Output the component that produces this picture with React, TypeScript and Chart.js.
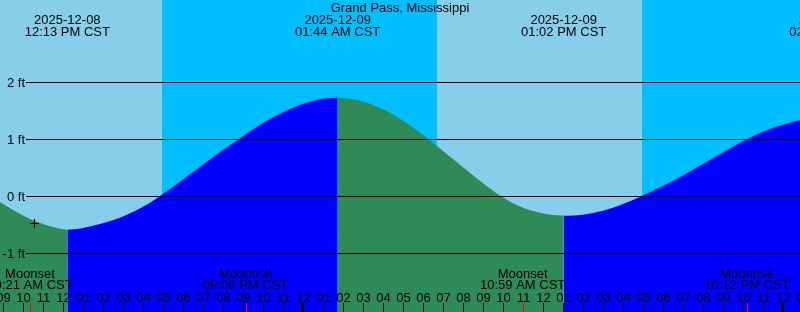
import React, { useEffect, useRef } from 'react';
import { Chart, registerables } from 'chart.js';

Chart.register(...registerables);

// ---- data (hours counted from 2025-12-08 00:00 CST) ----
const chartTitle = 'Grand Pass, Mississippi';

const tideHours = [
  8, 9, 10, 11, 12, 12.217, 13, 14, 15, 16, 17, 18, 19, 20, 21, 22, 23, 24, 25, 25.733,
  26, 27, 28, 29, 30, 31, 32, 33, 34, 35, 36, 37, 37.033,
  38, 39, 40, 41, 42, 43, 44, 45, 46, 47, 48, 49, 50, 50.45,
];
const tideFeet = [
  0.1, -0.14, -0.34, -0.49, -0.583, -0.59, -0.56, -0.48, -0.36, -0.19, 0.035, 0.29, 0.55, 0.805, 1.05, 1.28, 1.47, 1.615, 1.705, 1.725,
  1.72, 1.66, 1.52, 1.32, 1.07, 0.79, 0.505, 0.225, -0.025, -0.205, -0.305, -0.345, -0.346,
  -0.33, -0.26, -0.14, 0.01, 0.175, 0.36, 0.56, 0.765, 0.96, 1.125, 1.25, 1.34, 1.4, 1.41,
];

const tideEventHours = [12.217, 25.733, 37.033, 50.45];
const tideEventDates = ['2025-12-08', '2025-12-09', '2025-12-09', '2025-12-10'];
const tideEventTimes = ['12:13 PM CST', '01:44 AM CST', '01:02 PM CST', '02:27 AM CST'];

const moonEventHours = [10.35, 21.133, 34.983, 46.2];
const moonEventNames = ['Moonset', 'Moonrise', 'Moonset', 'Moonrise'];
const moonEventTimes = ['10:21 AM CST', '09:08 PM CST', '10:59 AM CST', '10:12 PM CST'];

const sunriseHours = [6.683, 30.685];
const sunsetHours = [16.935, 40.935];

const depthTicks = [2, 1, 0, -1];
const depthLabels = ['2 ft', '1 ft', '0 ft', '-1 ft'];

const hourTicks = [
  9, 10, 11, 12, 13, 14, 15, 16, 17, 18, 19, 20, 21, 22, 23, 24, 25, 26, 27, 28,
  29, 30, 31, 32, 33, 34, 35, 36, 37, 38, 39, 40, 41, 42, 43, 44, 45, 46, 47, 48, 49,
];
const hourLabels = [
  '09', '10', '11', '12', '01', '02', '03', '04', '05', '06', '07', '08', '09', '10', '11', '12', '01', '02', '03', '04',
  '05', '06', '07', '08', '09', '10', '11', '12', '01', '02', '03', '04', '05', '06', '07', '08', '09', '10', '11', '12', '01',
];
const midnightHours = [24, 48];

const nowHour = [10.575];
const nowFeet = [-0.482];

const xMin = 8.85;
const xMax = 48.85;
const yMin = -2.0351;
const yMax = 3.4386;

// ---- styles ----
const DAY = '#87CEEB';
const NIGHT = '#00BFFF';
const FLOOD = '#0000FF';
const EBB = '#2E8B57';
const FONT = '13px "Liberation Sans", Arial, Helvetica, sans-serif';

const decorPlugin = {
  id: 'tideDecor',
  beforeDatasetsDraw(chart: any) {
    const { ctx, chartArea, scales } = chart;
    const x = scales.x;
    ctx.save();
    ctx.fillStyle = NIGHT;
    ctx.fillRect(chartArea.left, chartArea.top, chartArea.right - chartArea.left, chartArea.bottom - chartArea.top);
    ctx.fillStyle = DAY;
    for (let i = 0; i < sunriseHours.length; i++) {
      const x0 = Math.max(chartArea.left, Math.round(x.getPixelForValue(sunriseHours[i])));
      const x1 = Math.min(chartArea.right, Math.round(x.getPixelForValue(sunsetHours[i])));
      if (x1 > x0) ctx.fillRect(x0, chartArea.top, x1 - x0, chartArea.bottom - chartArea.top);
    }
    ctx.restore();
  },
  afterDatasetsDraw(chart: any) {
    const { ctx, chartArea, scales } = chart;
    const x = scales.x;
    const y = scales.y;
    const W = chartArea.right;
    const H = chartArea.bottom;
    ctx.save();

    // depth grid lines + labels
    ctx.font = FONT;
    ctx.fillStyle = '#000';
    ctx.textBaseline = 'alphabetic';
    for (let i = 0; i < depthTicks.length; i++) {
      const py = Math.round(y.getPixelForValue(depthTicks[i]));
      ctx.fillRect(26, py, W - 26, 1);
      ctx.textAlign = 'right';
      ctx.fillText(depthLabels[i], 25, py + 5);
    }

    // title
    ctx.textAlign = 'center';
    ctx.fillText(chartTitle, 400, 12);

    // tide event labels
    for (let i = 0; i < tideEventHours.length; i++) {
      const px = x.getPixelForValue(tideEventHours[i]);
      ctx.fillText(tideEventDates[i], px, 24);
      ctx.fillText(tideEventTimes[i], px, 36);
    }

    // moon event labels
    for (let i = 0; i < moonEventHours.length; i++) {
      const px = x.getPixelForValue(moonEventHours[i]);
      ctx.fillText(moonEventNames[i], px, 278);
      ctx.fillText(moonEventTimes[i], px, 289);
    }

    // hour labels and ticks
    for (let i = 0; i < hourTicks.length; i++) {
      const px = Math.round(x.getPixelForValue(hourTicks[i]));
      ctx.fillStyle = '#000';
      ctx.fillText(hourLabels[i], px + 0.5, 302);
      if (midnightHours.includes(hourTicks[i])) {
        ctx.fillRect(px - 2, 303, 3, H - 303);
      } else {
        ctx.fillRect(px, 303, 1, H - 303);
      }
    }
    ctx.fillStyle = '#FF0000';
    for (let i = 0; i < moonEventHours.length; i++) {
      const px = Math.round(x.getPixelForValue(moonEventHours[i]));
      ctx.fillRect(px, 303, 1, H - 303);
    }
    ctx.restore();
  },
};

export default function App() {
  const canvasRef = useRef<HTMLCanvasElement | null>(null);

  useEffect(() => {
    const canvas = canvasRef.current;
    if (!canvas) return;
    const tideData = tideHours.map((h, i) => ({ x: h, y: tideFeet[i] }));
    const nowData = nowHour.map((h, i) => ({ x: h, y: nowFeet[i] }));
    const chart = new Chart(canvas, {
      type: 'line',
      data: {
        datasets: [
          {
            type: 'scatter',
            data: nowData,
            pointStyle: 'cross',
            pointRadius: 4.5,
            pointBorderWidth: 1,
            borderColor: '#000',
            backgroundColor: '#000',
            order: 0,
          } as any,
          {
            data: tideData,
            borderWidth: 0,
            borderColor: 'rgba(0,0,0,0)',
            backgroundColor: FLOOD,
            fill: 'start',
            pointRadius: 0,
            pointHoverRadius: 0,
            cubicInterpolationMode: 'monotone',
            order: 1,
            segment: {
              backgroundColor: (c: any) => (c.p1.parsed.y >= c.p0.parsed.y ? FLOOD : EBB),
            },
          } as any,
        ],
      },
      options: {
        responsive: false,
        maintainAspectRatio: false,
        devicePixelRatio: 1,
        animation: false,
        layout: { padding: 0, autoPadding: false },
        plugins: {
          legend: { display: false },
          tooltip: { enabled: false },
        },
        scales: {
          x: { type: 'linear', min: xMin, max: xMax, display: false },
          y: { type: 'linear', min: yMin, max: yMax, display: false },
        },
      } as any,
      plugins: [decorPlugin],
    });
    return () => chart.destroy();
  }, []);

  return (
    <div style={{ position: 'fixed', left: 0, top: 0, width: 800, height: 312 }}>
      <canvas ref={canvasRef} width={800} height={312} style={{ display: 'block', width: 800, height: 312 }} />
    </div>
  );
}
